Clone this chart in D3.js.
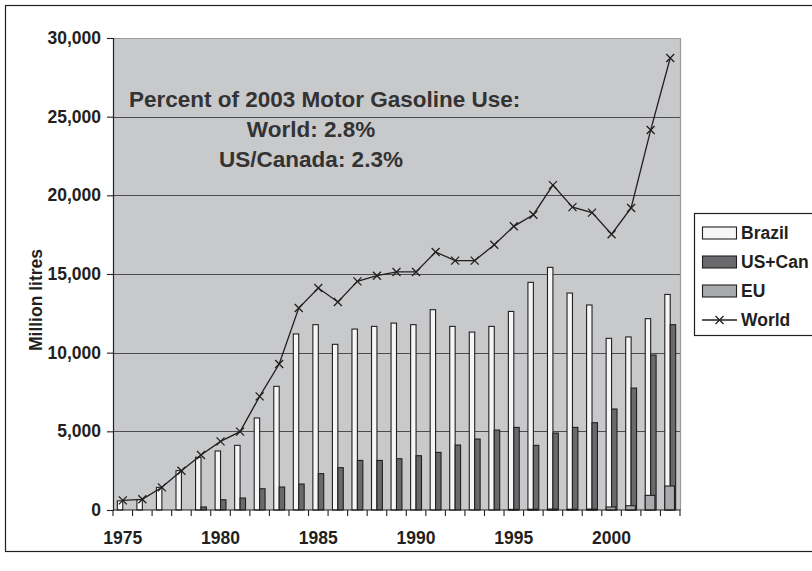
<!DOCTYPE html>
<html>
<head>
<meta charset="utf-8">
<script src="https://cdn.jsdelivr.net/npm/d3@7"></script>
<style>
  html, body { margin: 0; padding: 0; background: #fff; }
  svg { display: block; font-family: "Liberation Sans", Arial, sans-serif; }
</style>
</head>
<body>
<svg id="chart" width="812" height="571"></svg>
<script>
// Ethanol production, million litres
const years = d3.range(1975, 2004);
const brazil = [580, 660, 1440, 2500, 3350, 3750, 4110, 5850, 7860, 11190,
  11780, 10530, 11500, 11670, 11880, 11780, 12730, 11670, 11310, 11670,
  12620, 14470, 15420, 13790, 13030, 10910, 11000, 12160, 13700];
const usCan = [0, 0, 0, 0, 190, 650, 760, 1350, 1460, 1650,
  2310, 2690, 3150, 3150, 3260, 3450, 3660, 4130, 4510, 5080,
  5250, 4110, 4890, 5250, 5550, 6420, 7750, 9850, 11780];
const eu = [0, 0, 0, 0, 0, 0, 0, 0, 0, 0,
  0, 0, 0, 0, 0, 0, 0, 0, 0, 0,
  40, 50, 60, 50, 60, 190, 270, 930, 1525];
const world = [610, 680, 1440, 2500, 3500, 4360, 4980, 7220, 9280, 12840,
  14110, 13220, 14530, 14890, 15130, 15130, 16400, 15850, 15850, 16860,
  18030, 18770, 20650, 19250, 18900, 17530, 19200, 24150, 28730];
const yTicks = [0, 5000, 10000, 15000, 20000, 25000, 30000];
const xLabelYears = [1975, 1980, 1985, 1990, 1995, 2000];
const noteLines = ["Percent of 2003 Motor Gasoline Use:", "World: 2.8%", "US/Canada: 2.3%"];
const legendItems = ["Brazil", "US+Can", "EU", "World"];

const svg = d3.select("#chart");
const ink = "#231f20";
const plot = { left: 113, right: 680, top: 38, bottom: 510 };
const labelSize = 17.5;

const fills = { "Brazil": "#f6f6f6", "US+Can": "#6a6a6c", "EU": "#a9aaac" };

// outer chart frame
svg.append("rect")
  .attr("x", 5.5).attr("y", 5.5).attr("width", 840).attr("height", 546)
  .attr("fill", "#fff").attr("stroke", ink).attr("stroke-width", 1.2);

const x = d3.scaleBand().domain(years).range([plot.left, plot.right]).padding(0);
const y = d3.scaleLinear().domain([0, 30000]).range([plot.bottom, plot.top]);

// primary cluster: Brazil and US+Can side by side
const xs = d3.scaleBand().domain(["Brazil", "US+Can"])
  .range([0, x.bandwidth()]).paddingInner(0).paddingOuter(0.8);
const euOffset = xs("Brazil");
const euWidth = xs.bandwidth() * 1.78;

// plot background
svg.append("rect")
  .attr("x", plot.left).attr("y", plot.top)
  .attr("width", plot.right - plot.left).attr("height", plot.bottom - plot.top)
  .attr("fill", "#c8c9cb");

// gridlines
svg.append("g").selectAll("line")
  .data(yTicks.filter(d => d > 0 && d < 30000))
  .join("line")
  .attr("x1", plot.left).attr("x2", plot.right)
  .attr("y1", d => Math.round(y(d)) + 0.5).attr("y2", d => Math.round(y(d)) + 0.5)
  .attr("stroke", "#4d4d4f").attr("stroke-width", 1);

// plot frame top and right
svg.append("path")
  .attr("d", `M${plot.left},${plot.top + 0.5}H${plot.right + 0.5}V${plot.bottom}`)
  .attr("fill", "none").attr("stroke", "#9a9b9d").attr("stroke-width", 1.2);

function bars(values, key, offset, width) {
  svg.append("g").selectAll("rect")
    .data(years.map((yr, i) => ({ yr, v: values[i] })).filter(d => d.v > 0))
    .join("rect")
    .attr("x", d => x(d.yr) + offset)
    .attr("y", d => y(d.v))
    .attr("width", width)
    .attr("height", d => y(0) - y(d.v))
    .attr("fill", fills[key])
    .attr("stroke", ink).attr("stroke-width", 1.1);
}
bars(brazil, "Brazil", xs("Brazil"), xs.bandwidth());
bars(usCan, "US+Can", xs("US+Can"), xs.bandwidth());
bars(eu, "EU", euOffset, euWidth);

// world line with x markers
const line = d3.line().x((d, i) => x(years[i]) + x.bandwidth() / 2).y(d => y(d));
svg.append("path").datum(world)
  .attr("d", line).attr("fill", "none").attr("stroke", ink).attr("stroke-width", 1.3);
const m = 4;
svg.append("g").selectAll("path")
  .data(world)
  .join("path")
  .attr("d", (d, i) => {
    const cx = x(years[i]) + x.bandwidth() / 2, cy = y(d);
    return `M${cx - m},${cy - m}L${cx + m},${cy + m}M${cx - m},${cy + m}L${cx + m},${cy - m}`;
  })
  .attr("stroke", ink).attr("stroke-width", 1.3);

// y axis
const yAxis = svg.append("g")
  .attr("transform", `translate(${plot.left},0)`)
  .call(d3.axisLeft(y).tickValues(yTicks).tickSize(6).tickPadding(6).tickFormat(d3.format(",")));
yAxis.select(".domain").attr("stroke", ink).attr("stroke-width", 1.2);
yAxis.selectAll(".tick line").attr("stroke", ink).attr("stroke-width", 1.1);
yAxis.selectAll("text").attr("fill", ink).attr("font-size", labelSize).attr("font-weight", "bold")
  .attr("font-family", "Liberation Sans, Arial, sans-serif");

// x axis: ticks at category boundaries, labels every five years
const xAxisG = svg.append("g").attr("transform", `translate(0,${plot.bottom})`);
xAxisG.append("line")
  .attr("x1", plot.left).attr("x2", plot.right + 0.5)
  .attr("stroke", ink).attr("stroke-width", 1.2);
xAxisG.selectAll("line.tick")
  .data(years.map(yr => x(yr)).concat([plot.right]))
  .join("line").attr("class", "tick")
  .attr("x1", d => d).attr("x2", d => d).attr("y1", 0).attr("y2", 6)
  .attr("stroke", ink).attr("stroke-width", 1.1);
xAxisG.selectAll("text")
  .data(xLabelYears)
  .join("text")
  .attr("x", d => x(d) + x.bandwidth() / 2)
  .attr("y", 34)
  .attr("text-anchor", "middle")
  .attr("font-size", labelSize).attr("font-weight", "bold").attr("fill", ink)
  .text(d => d);

// y axis title
svg.append("text")
  .attr("transform", "translate(42,300) rotate(-90)")
  .attr("text-anchor", "middle")
  .attr("font-size", labelSize).attr("font-weight", "bold").attr("fill", ink)
  .text("Million litres");

// annotation
svg.append("text").attr("x", 129).attr("y", 107)
  .attr("font-size", 22.5).attr("font-weight", "bold").attr("fill", "#333")
  .text(noteLines[0]);
svg.append("g").selectAll("text")
  .data(noteLines.slice(1))
  .join("text")
  .attr("x", 311).attr("y", (d, i) => 137 + i * 30)
  .attr("text-anchor", "middle")
  .attr("font-size", 22.5).attr("font-weight", "bold").attr("fill", "#333")
  .text(d => d);

// legend
const lg = svg.append("g");
lg.append("rect")
  .attr("x", 694.5).attr("y", 213.5).attr("width", 200).attr("height", 122)
  .attr("fill", "#fff").attr("stroke", ink).attr("stroke-width", 1.2);
legendItems.forEach((name, i) => {
  const cy = 233 + i * 29;
  if (name === "World") {
    lg.append("line").attr("x1", 702).attr("x2", 737).attr("y1", cy).attr("y2", cy)
      .attr("stroke", ink).attr("stroke-width", 1.3);
    lg.append("path")
      .attr("d", `M${719.5 - m},${cy - m}L${719.5 + m},${cy + m}M${719.5 - m},${cy + m}L${719.5 + m},${cy - m}`)
      .attr("stroke", ink).attr("stroke-width", 1.3);
  } else {
    lg.append("rect").attr("x", 702.5).attr("y", cy - 6).attr("width", 34).attr("height", 12)
      .attr("fill", fills[name]).attr("stroke", ink).attr("stroke-width", 1.1);
  }
  lg.append("text").attr("x", 741).attr("y", cy + 6)
    .attr("font-size", labelSize).attr("font-weight", "bold").attr("fill", ink)
    .text(name);
});
</script>
</body>
</html>
